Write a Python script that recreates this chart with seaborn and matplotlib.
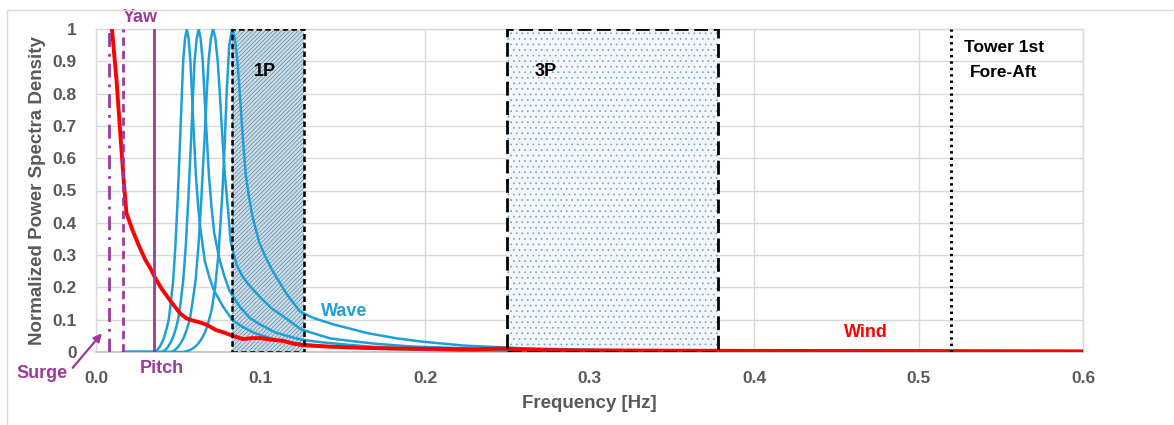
import matplotlib
matplotlib.use("Agg")
import matplotlib.pyplot as plt
from matplotlib import font_manager
from matplotlib.patches import Rectangle
import pandas as pd
import seaborn as sns

# ---- data -------------------------------------------------------------
wind_freq = [0.0097, 0.0125, 0.015, 0.017, 0.0185, 0.022, 0.026, 0.030, 0.033,
             0.036, 0.040, 0.045, 0.051, 0.055, 0.059, 0.063, 0.067, 0.073,
             0.078, 0.083, 0.0895, 0.095, 0.100, 0.107, 0.114, 0.120, 0.126,
             0.140, 0.160, 0.180, 0.200, 0.230, 0.245, 0.255, 0.270, 0.300,
             0.350, 0.400, 0.450, 0.500, 0.550, 0.600]
wind_psd = [1.0, 0.84, 0.66, 0.52, 0.43, 0.38, 0.33, 0.285, 0.26,
            0.229, 0.195, 0.16, 0.12, 0.104, 0.097, 0.092, 0.085, 0.068,
            0.060, 0.050, 0.040, 0.043, 0.043, 0.038, 0.034, 0.026, 0.021,
            0.017, 0.013, 0.011, 0.010, 0.008, 0.011, 0.009, 0.006, 0.005,
            0.004, 0.0035, 0.003, 0.003, 0.0025, 0.002]

wave1_freq = [0.0164, 0.0353, 0.0370, 0.0386, 0.0400, 0.0414, 0.0428, 0.0442,
              0.0455, 0.0469, 0.0483, 0.0497, 0.0505, 0.0513, 0.0522, 0.0530,
              0.0541, 0.0552, 0.0563, 0.0574, 0.0585, 0.0596, 0.0607, 0.0621,
              0.0635, 0.0662, 0.0690, 0.0718, 0.0773, 0.0828, 0.0883, 0.0966,
              0.1104, 0.1214, 0.1325, 0.1490, 0.1711, 0.1932, 0.2208, 0.276,
              0.42]
wave1_psd = [0.0, 0.0, 0.005, 0.015, 0.028, 0.045, 0.07, 0.10,
             0.155, 0.22, 0.33, 0.48, 0.58, 0.68, 0.80, 0.90,
             0.97, 1.0, 0.97, 0.90, 0.78, 0.66, 0.55, 0.45,
             0.38, 0.28, 0.23, 0.19, 0.14, 0.10, 0.08, 0.058,
             0.036, 0.027, 0.022, 0.015, 0.010, 0.007, 0.004, 0.002,
             0.0005]

wave2_freq = [0.0164, 0.0399, 0.0418, 0.0437, 0.0452, 0.0468, 0.0484, 0.0499,
              0.0515, 0.0530, 0.0546, 0.0562, 0.0571, 0.0580, 0.0590, 0.0599,
              0.0612, 0.0624, 0.0636, 0.0649, 0.0661, 0.0674, 0.0686, 0.0702,
              0.0718, 0.0749, 0.0780, 0.0811, 0.0874, 0.0936, 0.0998, 0.1092,
              0.1248, 0.1373, 0.1498, 0.1685, 0.1934, 0.2184, 0.2496, 0.312,
              0.42]
wave2_psd = [0.0, 0.0, 0.005, 0.015, 0.028, 0.045, 0.07, 0.10,
             0.155, 0.22, 0.33, 0.48, 0.58, 0.68, 0.80, 0.90,
             0.97, 1.0, 0.97, 0.90, 0.78, 0.66, 0.55, 0.45,
             0.37, 0.29, 0.235, 0.19, 0.14, 0.105, 0.085, 0.06,
             0.038, 0.030, 0.024, 0.016, 0.011, 0.007, 0.005, 0.002,
             0.0005]

wave3_freq = [0.0164, 0.0456, 0.0477, 0.0498, 0.0516, 0.0534, 0.0552, 0.0570,
              0.0587, 0.0605, 0.0623, 0.0641, 0.0651, 0.0662, 0.0673, 0.0684,
              0.0698, 0.0712, 0.0726, 0.0740, 0.0755, 0.0769, 0.0783, 0.0801,
              0.0819, 0.0854, 0.0890, 0.0926, 0.0997, 0.1068, 0.1139, 0.1246,
              0.1424, 0.1566, 0.1709, 0.1922, 0.2207, 0.2492, 0.2848, 0.356,
              0.42]
wave3_psd = [0.0, 0.0, 0.005, 0.015, 0.028, 0.045, 0.07, 0.10,
             0.155, 0.22, 0.33, 0.48, 0.58, 0.68, 0.80, 0.90,
             0.97, 1.0, 0.97, 0.90, 0.78, 0.66, 0.55, 0.45,
             0.34, 0.27, 0.235, 0.21, 0.17, 0.135, 0.11, 0.07,
             0.042, 0.033, 0.025, 0.017, 0.012, 0.008, 0.005, 0.002,
             0.0005]

wave4_freq = [0.0164, 0.0529, 0.0554, 0.0579, 0.0600, 0.0620, 0.0641, 0.0662,
              0.0682, 0.0703, 0.0724, 0.0744, 0.0757, 0.0769, 0.0782, 0.0794,
              0.0810, 0.0827, 0.0844, 0.0860, 0.0877, 0.0893, 0.0910, 0.0930,
              0.0951, 0.0992, 0.1034, 0.1075, 0.1158, 0.1241, 0.1323, 0.1447,
              0.1654, 0.1819, 0.1985, 0.2233, 0.2564, 0.2895, 0.3308, 0.4135,
              0.42]
wave4_psd = [0.0, 0.0, 0.003, 0.008, 0.015, 0.025, 0.04, 0.06,
             0.09, 0.13, 0.20, 0.30, 0.40, 0.50, 0.64, 0.80,
             0.95, 1.0, 0.97, 0.90, 0.78, 0.66, 0.55, 0.48,
             0.42, 0.34, 0.29, 0.25, 0.18, 0.125, 0.105, 0.085,
             0.058, 0.043, 0.032, 0.020, 0.012, 0.008, 0.004, 0.001,
             0.001]

surge_freq = 0.008
yaw_freq = 0.0165
pitch_freq = 0.0353
tower_freq = 0.52
band_1p = (0.0827, 0.1265)
band_3p = (0.25, 0.378)

x_ticks = [0.0, 0.1, 0.2, 0.3, 0.4, 0.5, 0.6]
x_tick_labels = ["0.0", "0.1", "0.2", "0.3", "0.4", "0.5", "0.6"]
y_ticks = [0.0, 0.1, 0.2, 0.3, 0.4, 0.5, 0.6, 0.7, 0.8, 0.9, 1.0]
y_tick_labels = ["0", "0.1", "0.2", "0.3", "0.4", "0.5", "0.6", "0.7", "0.8", "0.9", "1"]

# ---- style ------------------------------------------------------------
sns.set_theme(style="white")
installed = {f.name for f in font_manager.fontManager.ttflist}
family = ["Liberation Sans Narrow"] if "Liberation Sans Narrow" in installed else []
plt.rcParams["font.family"] = family + ["Liberation Sans", "DejaVu Sans"]
plt.rcParams["font.weight"] = "bold"
plt.rcParams["hatch.linewidth"] = 0.5

PURPLE = "#9c3a9c"
BLUE = "#1f9fd8"
RED = "#ff0000"
GRID = "#d9d9d9"
TICK = "#595959"

fig = plt.figure(figsize=(11.74, 4.25), dpi=100)
# light frame around the chart area
fig.add_artist(Rectangle((7 / 1174, -0.1), 1.2, (425 - 10) / 425 + 0.1,
                         transform=fig.transFigure, fill=False,
                         edgecolor="#d9d9d9", linewidth=1.0))
ax = fig.add_axes([96 / 1174, 73 / 425, 987 / 1174, 323 / 425])

# frequency bands
ax.add_patch(Rectangle((band_1p[0], 0), band_1p[1] - band_1p[0], 1.0,
                       facecolor="#cddbe5", edgecolor="#5b8eab", hatch="////////",
                       linewidth=0, zorder=1))
ax.add_patch(Rectangle((band_3p[0], 0), band_3p[1] - band_3p[0], 1.0,
                       facecolor="#f3f7fa", edgecolor="#6fa5c8", hatch="...",
                       linewidth=0, zorder=1))

# spectra
for fr, ps in [(wave1_freq, wave1_psd), (wave2_freq, wave2_psd),
               (wave3_freq, wave3_psd), (wave4_freq, wave4_psd)]:
    sns.lineplot(data=pd.DataFrame({"f": fr, "S": ps}), x="f", y="S", ax=ax,
                 color=BLUE, linewidth=1.8, sort=False, estimator=None, zorder=3)
sns.lineplot(data=pd.DataFrame({"f": wind_freq, "S": wind_psd}), x="f", y="S",
             ax=ax, color=RED, linewidth=2.8, sort=False, estimator=None, zorder=4)

# band outlines
ax.add_patch(Rectangle((band_1p[0], 0), band_1p[1] - band_1p[0], 1.0, fill=False,
                       edgecolor="black", linewidth=1.8,
                       linestyle=(0, (2.2, 1.3)), zorder=5))
ax.add_patch(Rectangle((band_3p[0], 0), band_3p[1] - band_3p[0], 1.0, fill=False,
                       edgecolor="black", linewidth=2.0,
                       linestyle=(0, (5, 2)), zorder=5))

# natural frequencies
ax.plot([surge_freq, surge_freq], [0, 1], color=PURPLE, linewidth=2.0,
        linestyle=(0, (5, 2.5, 1, 2.5)), zorder=6)
ax.plot([yaw_freq, yaw_freq], [0, 1], color=PURPLE, linewidth=2.0,
        linestyle=(0, (3, 1.8)), zorder=6)
ax.plot([pitch_freq, pitch_freq], [0, 1], color=PURPLE, linewidth=2.0, zorder=6)
ax.plot([tower_freq, tower_freq], [0, 1], color="black", linewidth=2.2,
        linestyle=(0, (0.8, 1.3)), zorder=6)

# labels
ax.text(0.027, 1.035, "Yaw", color=PURPLE, fontsize=13, ha="center", va="center",
        clip_on=False)
ax.text(0.040, -0.052, "Pitch", color=PURPLE, fontsize=13, ha="center",
        va="center", clip_on=False)
ax.text(-0.0329, -0.067, "Surge", color=PURPLE, fontsize=13, ha="center",
        va="center", clip_on=False)
ax.annotate("", xy=(0.0036, 0.058), xytext=(-0.0142, -0.049),
            arrowprops=dict(arrowstyle="-|>", color=PURPLE, lw=1.6,
                            mutation_scale=12, shrinkA=0, shrinkB=0),
            annotation_clip=False)
ax.text(0.1027, 0.867, "1P", color="black", fontsize=13, ha="center", va="center")
ax.text(0.2736, 0.867, "3P", color="black", fontsize=13, ha="center", va="center")
ax.text(0.151, 0.124, "Wave", color=BLUE, fontsize=13, ha="center", va="center")
ax.text(0.468, 0.059, "Wind", color=RED, fontsize=13, ha="center", va="center")
ax.text(0.552, 0.944, "Tower 1st", color="black", fontsize=12.5, ha="center",
        va="center")
ax.text(0.552, 0.864, "Fore-Aft", color="black", fontsize=12.5, ha="center",
        va="center")

# axes
ax.set_xlim(0, 0.6)
ax.set_ylim(0, 1)
ax.set_xticks(x_ticks)
ax.set_xticklabels(x_tick_labels)
ax.set_yticks(y_ticks)
ax.set_yticklabels(y_tick_labels)
ax.tick_params(axis="both", length=0, labelsize=12.5, labelcolor=TICK)
ax.tick_params(axis="x", pad=14)
ax.tick_params(axis="y", pad=14)
ax.grid(True, color=GRID, linewidth=1.0)
ax.set_axisbelow(True)
for side in ["top", "right", "left"]:
    ax.spines[side].set_color(GRID)
    ax.spines[side].set_linewidth(1.0)
ax.spines["bottom"].set_color("#bfbfbf")
ax.spines["bottom"].set_linewidth(1.2)
ax.set_xlabel("Frequency [Hz]", fontsize=13.5, color=TICK, fontweight="bold")
ax.set_ylabel("Normalized Power Spectra Density", fontsize=13.5, color=TICK,
              fontweight="bold")
ax.xaxis.set_label_coords(0.5, -0.133)
ax.yaxis.set_label_coords(-0.0507, 0.5)

fig.savefig("out.png", dpi=100)
